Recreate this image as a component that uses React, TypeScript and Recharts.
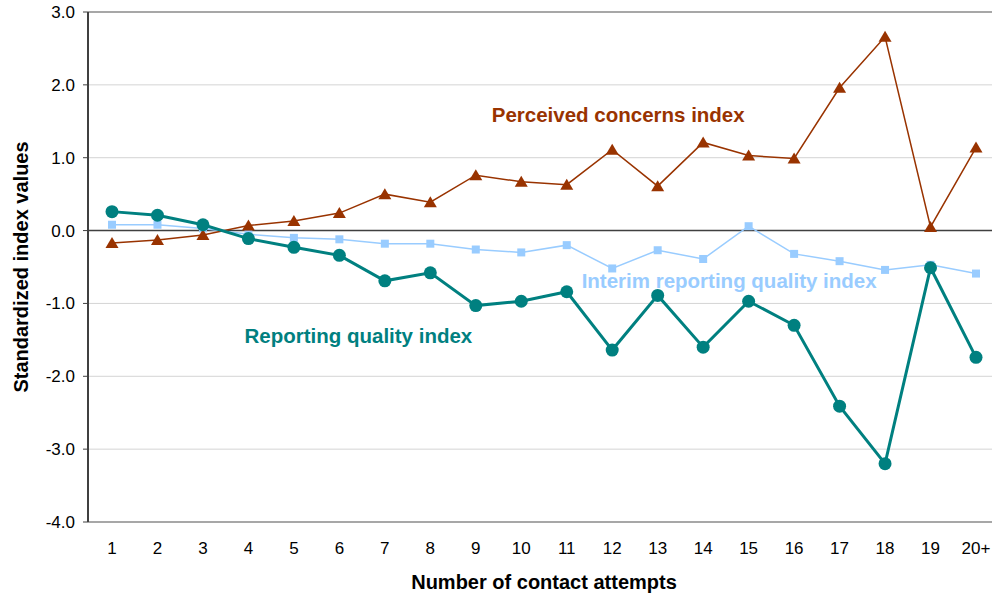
import * as React from 'react';
import {
  CartesianGrid,
  Label,
  Line,
  LineChart,
  ReferenceDot,
  ReferenceLine,
  XAxis,
  YAxis,
} from 'recharts';

const attempts = ['1', '2', '3', '4', '5', '6', '7', '8', '9', '10', '11', '12', '13', '14', '15', '16', '17', '18', '19', '20+'];

const concerns = [-0.17, -0.13, -0.06, 0.07, 0.13, 0.24, 0.5, 0.39, 0.76, 0.67, 0.63, 1.11, 0.61, 1.21, 1.03, 0.99, 1.96, 2.66, 0.05, 1.14];
const interim = [0.08, 0.08, 0.03, -0.05, -0.1, -0.12, -0.18, -0.18, -0.26, -0.3, -0.2, -0.52, -0.27, -0.39, 0.06, -0.32, -0.42, -0.54, -0.47, -0.59];
const reporting = [0.26, 0.21, 0.08, -0.11, -0.23, -0.34, -0.69, -0.58, -1.03, -0.97, -0.84, -1.64, -0.89, -1.6, -0.97, -1.3, -2.41, -3.2, -0.51, -1.74];

const yTicks = [-4, -3, -2, -1, 0, 1, 2, 3];

const FONT = '"Liberation Sans", Arial, sans-serif';

const data = attempts.map((a, i) => ({
  attempt: a,
  concerns: concerns[i],
  interim: interim[i],
  reporting: reporting[i],
}));

const Triangle = (props: any) => {
  const { cx, cy } = props;
  if (cx == null || cy == null) return null;
  return (
    <path
      d={`M${cx},${cy - 6} L${cx + 6.5},${cy + 5} L${cx - 6.5},${cy + 5} Z`}
      fill="#993300"
    />
  );
};

const Square = (props: any) => {
  const { cx, cy } = props;
  if (cx == null || cy == null) return null;
  return <rect x={cx - 4} y={cy - 4} width={8} height={8} fill="#99ccff" />;
};

const seriesLabel = (text: string, color: string, dx: number) => (
  <Label
    value={text}
    position="center"
    dx={dx}
    style={{ fill: color, fontSize: 20.5, fontWeight: 'bold', fontFamily: FONT }}
  />
);

export default function App() {
  // the plot runs a little past the right edge of the page, same as the original
  return (
    <div style={{ width: 992, height: 596, overflow: 'hidden', fontFamily: FONT }}>
      <style>{'html, body { margin: 0; padding: 0; overflow: hidden; }'}</style>
      <LineChart
        width={1002}
        height={596}
        data={data}
        margin={{ top: 12, right: 2, left: 0, bottom: 0 }}
      >
        <CartesianGrid horizontal vertical={false} stroke="#d4d4d4" />
        <XAxis
          dataKey="attempt"
          height={74}
          padding={{ left: 24, right: 24 }}
          tickLine={false}
          tickMargin={14}
          interval={0}
          axisLine={{ stroke: '#909090', strokeWidth: 1.5 }}
          tick={{ fill: '#000', fontSize: 17, fontFamily: FONT }}
        >
          <Label
            value="Number of contact attempts"
            position="insideBottom"
            offset={7}
            style={{ fill: '#000', fontSize: 20, fontWeight: 'bold', fontFamily: FONT }}
          />
        </XAxis>
        <YAxis
          width={88}
          domain={[-4, 3]}
          ticks={yTicks}
          tickFormatter={(v) => Number(v).toFixed(1)}
          tickSize={5}
          tickMargin={8}
          tickLine={{ stroke: '#404040' }}
          axisLine={{ stroke: '#404040', strokeWidth: 2 }}
          tick={{ fill: '#000', fontSize: 17, fontFamily: FONT }}
          interval={0}
        >
          <Label
            value="Standardized index values"
            angle={-90}
            position="insideLeft"
            offset={21}
            style={{ fill: '#000', fontSize: 20, fontWeight: 'bold', fontFamily: FONT, textAnchor: 'middle' }}
          />
        </YAxis>
        <ReferenceLine y={0} stroke="#404040" strokeWidth={1.5} />
        <ReferenceLine y={3} stroke="#909090" strokeWidth={1.5} />
        <Line
          dataKey="interim"
          stroke="#99ccff"
          strokeWidth={1.5}
          dot={<Square />}
          isAnimationActive={false}
        />
        <Line
          dataKey="concerns"
          stroke="#993300"
          strokeWidth={1.5}
          dot={<Triangle />}
          isAnimationActive={false}
        />
        <Line
          dataKey="reporting"
          stroke="#008080"
          strokeWidth={3}
          dot={{ r: 6.5, fill: '#008080', stroke: 'none' }}
          isAnimationActive={false}
        />
        <ReferenceDot x="12" y={1.59} r={0} stroke="none" fill="none">
          {seriesLabel('Perceived concerns index', '#993300', 6)}
        </ReferenceDot>
        <ReferenceDot x="14" y={-0.69} r={0} stroke="none" fill="none">
          {seriesLabel('Interim reporting quality index', '#99ccff', 26)}
        </ReferenceDot>
        <ReferenceDot x="6" y={-1.44} r={0} stroke="none" fill="none">
          {seriesLabel('Reporting quality index', '#008080', 19)}
        </ReferenceDot>
      </LineChart>
    </div>
  );
}
